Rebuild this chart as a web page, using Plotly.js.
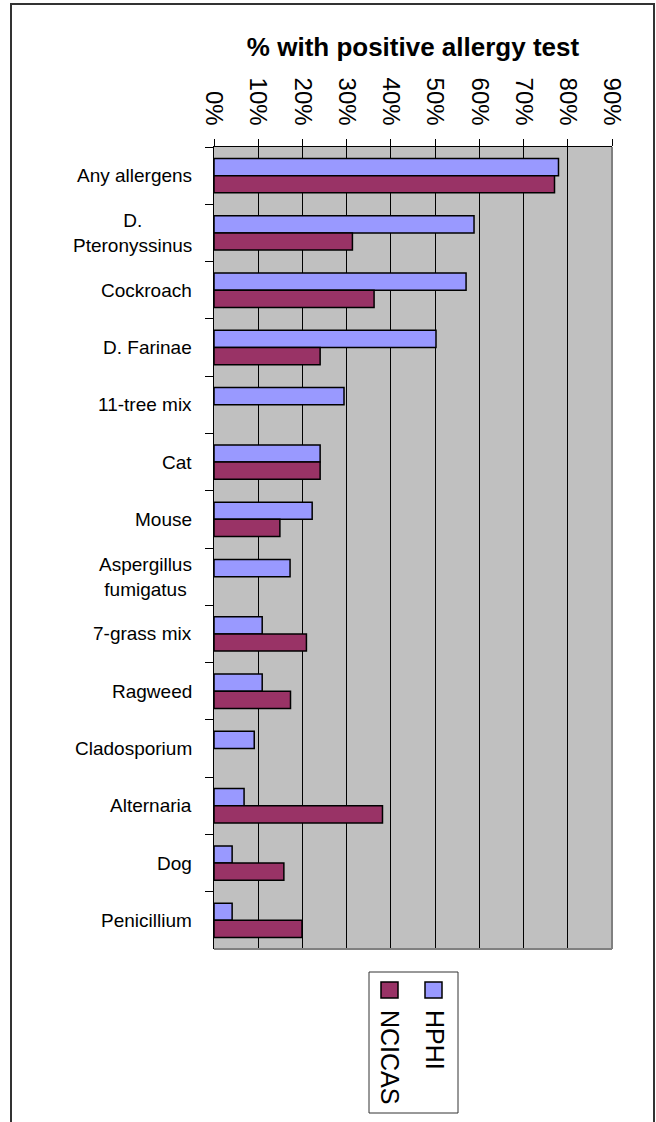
<!DOCTYPE html>
<html>
<head>
<meta charset="utf-8">
<script src="https://cdn.plot.ly/plotly-3.0.1.min.js"></script>
<style>
  html, body { margin: 0; padding: 0; background: #fff; }
  #wrap { position: relative; width: 656px; height: 1122px; overflow: hidden; }
  #chart { position: absolute; left: 0; top: 0; width: 656px; height: 1122px; }
  #frame { position: absolute; left: 10px; top: 3px; width: 641px; height: 1130px;
           border: 2px solid #333; border-bottom: none; pointer-events: none; }
</style>
</head>
<body>
<div id="wrap">
  <div id="chart"></div>
  <div id="frame"></div>
</div>
<script>
// ---- data ----
const categories = ["Any allergens", "D.<br>Pteronyssinus", "Cockroach", "D. Farinae",
  "11-tree mix", "Cat", "Mouse", "Aspergillus<br>fumigatus", "7-grass mix", "Ragweed",
  "Cladosporium", "Alternaria", "Dog", "Penicillium"];
const seriesNames = ["HPHI", "NCICAS"];
const hphi   = [0.779, 0.588, 0.570, 0.502, 0.294, 0.240, 0.222, 0.172, 0.109, 0.109, 0.091, 0.068, 0.041, 0.041];
const ncicas = [0.770, 0.313, 0.362, 0.240, null, 0.240, 0.149, null, 0.209, 0.173, null, 0.381, 0.158, 0.199];
const xTickVals = [0, 0.1, 0.2, 0.3, 0.4, 0.5, 0.6, 0.7, 0.8, 0.9];
const xTickText = ["0%", "10%", "20%", "30%", "40%", "50%", "60%", "70%", "80%", "90%"];
const chartTitle = "% with positive allergy test";
const colors = ["#9999FF", "#993366"];

// ---- layout geometry (pixels) ----
const W = 656, H = 1122;
const L = 214, R = 612, T = 147, B = 949;
const px = v => (v - L) / (R - L);   // pixel x -> paper x
const py = v => (B - v) / (B - T);   // pixel y -> paper y
const FONT = "Liberation Sans, Arial, sans-serif";

const traces = [hphi, ncicas].map((vals, i) => ({
  type: "bar", orientation: "h", name: seriesNames[i],
  y: categories, x: vals,
  marker: { color: colors[i], line: { color: "#000", width: 1.5 } },
  hoverinfo: "x+y"
}));

const annotations = categories.map(c => ({
  xref: "paper", yref: "y", x: 0, y: c, xanchor: "right", yanchor: "middle",
  xshift: -20, align: "center", showarrow: false, text: c,
  font: { family: FONT, size: 19, color: "#000" }
}));

// Legend (drawn rotated like the original)
const legendX = [435, 390], squareX = [[425, 442], [381, 398]];
seriesNames.forEach((n, i) => {
  annotations.push({
    xref: "paper", yref: "paper", x: px(legendX[i]), y: py(1008),
    xanchor: "center", yanchor: "top", textangle: 90, showarrow: false, text: n,
    font: { family: FONT, size: 25, color: "#000" }
  });
});

const shapes = [
  // plot right and bottom border
  { type: "line", xref: "paper", yref: "paper", x0: 1, x1: 1, y0: 0, y1: 1, line: { color: "#808080", width: 2 }, layer: "above" },
  { type: "line", xref: "paper", yref: "paper", x0: 0, x1: 1, y0: 0, y1: 0, line: { color: "#808080", width: 2 }, layer: "above" },
  // legend box
  { type: "rect", xref: "paper", yref: "paper", x0: px(369), x1: px(458), y0: py(972), y1: py(1113),
    line: { color: "#333", width: 1 }, fillcolor: "#fff" }
];
seriesNames.forEach((n, i) => {
  shapes.push({ type: "rect", xref: "paper", yref: "paper",
    x0: px(squareX[i][0]), x1: px(squareX[i][1]), y0: py(982), y1: py(998),
    fillcolor: colors[i], line: { color: "#000", width: 1.5 } });
});

const layout = {
  width: W, height: H,
  margin: { l: L, r: W - R, t: T, b: H - B, pad: 0 },
  paper_bgcolor: "#fff", plot_bgcolor: "#C0C0C0",
  showlegend: false,
  barmode: "group", bargap: 0.4, bargroupgap: 0,
  title: { text: "<b>" + chartTitle + "</b>", xref: "paper", x: 0.5, xanchor: "center",
           yref: "container", y: 1 - 47 / H, yanchor: "middle",
           font: { family: FONT, size: 26, color: "#000" } },
  font: { family: FONT, color: "#000" },
  xaxis: {
    side: "top", range: [0, 0.9], tickvals: xTickVals, ticktext: xTickText,
    tickangle: 90, ticks: "outside", ticklen: 7, tickcolor: "#000", tickwidth: 1,
    ticklabelstandoff: 5,
    showgrid: true, gridcolor: "#000", gridwidth: 1, zeroline: false,
    showline: true, linecolor: "#000", linewidth: 1,
    tickfont: { family: FONT, size: 24, color: "#000" }, fixedrange: true
  },
  yaxis: {
    type: "category", autorange: "reversed", tickson: "boundaries",
    ticks: "outside", ticklen: 8, tickcolor: "#000", tickwidth: 1,
    showticklabels: false, showgrid: false, zeroline: false,
    showline: true, linecolor: "#000", linewidth: 1, fixedrange: true
  },
  annotations: annotations,
  shapes: shapes
};

Plotly.newPlot("chart", traces, layout, { displayModeBar: false, staticPlot: true });
</script>
</body>
</html>
